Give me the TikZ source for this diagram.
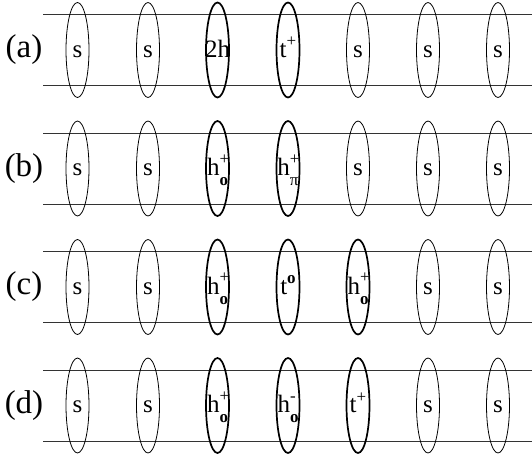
\documentclass[tikz,border=0pt]{standalone}
\usepackage{fontspec}
\setmainfont{Liberation Serif}
\usetikzlibrary{shapes.geometric}
\newcommand{\subfnt}{\fontsize{17}{17}\selectfont}
\newcommand{\hlab}[2]{h\makebox[0pt][l]{\raisebox{0.46em}{\subfnt #1}}\raisebox{-0.4em}{\subfnt #2}}
\newcommand{\tlab}[1]{t\raisebox{0.42em}{\subfnt #1}}
\newcommand{\bo}{\textbf{o}}
\tikzset{
  ring/.style={ellipse, draw, line width=0.8pt, minimum width=23pt, minimum height=95pt, inner sep=0pt},
  thickring/.style={ring, line width=1.7pt},
  spin/.style={anchor=base, inner sep=0pt, font=\fontsize{25}{25}\selectfont},
  rowlabel/.style={inner sep=0pt, font=\fontsize{33}{33}\selectfont},
  rail/.style={line width=0.8pt, black!80}
}
\begin{document}
\begin{tikzpicture}[x=1pt,y=-1pt]
\useasboundingbox (0,0) rectangle (532,455);
\foreach \r/\yc in {a/50,b/168.5,c/287,d/405.5}{
  \coordinate (L\r t) at (43,\yc-35.5);
  \coordinate (R\r t) at (532,\yc-35.5);
  \coordinate (L\r b) at (43,\yc+35.5);
  \coordinate (R\r b) at (532,\yc+35.5);
  \draw[rail] (L\r t) -- (R\r t);
  \draw[rail] (L\r b) -- (R\r b);
  \node[rowlabel] (lab\r) at (24,\yc) {(\r)};
}
\foreach \r/\yc/\sa/\sb/\sc/\ta/\tb/\tc in {
  a/50/thickring/thickring/ring/{2h}/{\tlab{+}}/s,
  b/168.5/thickring/thickring/ring/{\hlab{+}{\bo}}/{\hlab{+}{π}}/s,
  c/287/thickring/thickring/thickring/{\hlab{+}{\bo}}/{\tlab{\bo}}/{\hlab{+}{\bo}},
  d/405.5/thickring/thickring/thickring/{\hlab{+}{\bo}}/{\hlab{-}{\bo}}/{\tlab{+}}}{
  \node[ring] (\r1) at (77.5,\yc) {};
  \node[ring] (\r2) at (148,\yc) {};
  \node[\sa] (\r3) at (217.5,\yc) {};
  \node[\sb] (\r4) at (288,\yc) {};
  \node[\sc] (\r5) at (358,\yc) {};
  \node[ring] (\r6) at (428,\yc) {};
  \node[ring] (\r7) at (498,\yc) {};
  \node[spin] (t\r1) at (77.5,\yc+7) {s};
  \node[spin] (t\r2) at (148,\yc+7) {s};
  \node[spin] (t\r3) at (217.5,\yc+7) {\ta};
  \node[spin] (t\r4) at (288,\yc+7) {\tb};
  \node[spin] (t\r5) at (358,\yc+7) {\tc};
  \node[spin] (t\r6) at (428,\yc+7) {s};
  \node[spin] (t\r7) at (498,\yc+7) {s};
}
\end{tikzpicture}
\end{document}
